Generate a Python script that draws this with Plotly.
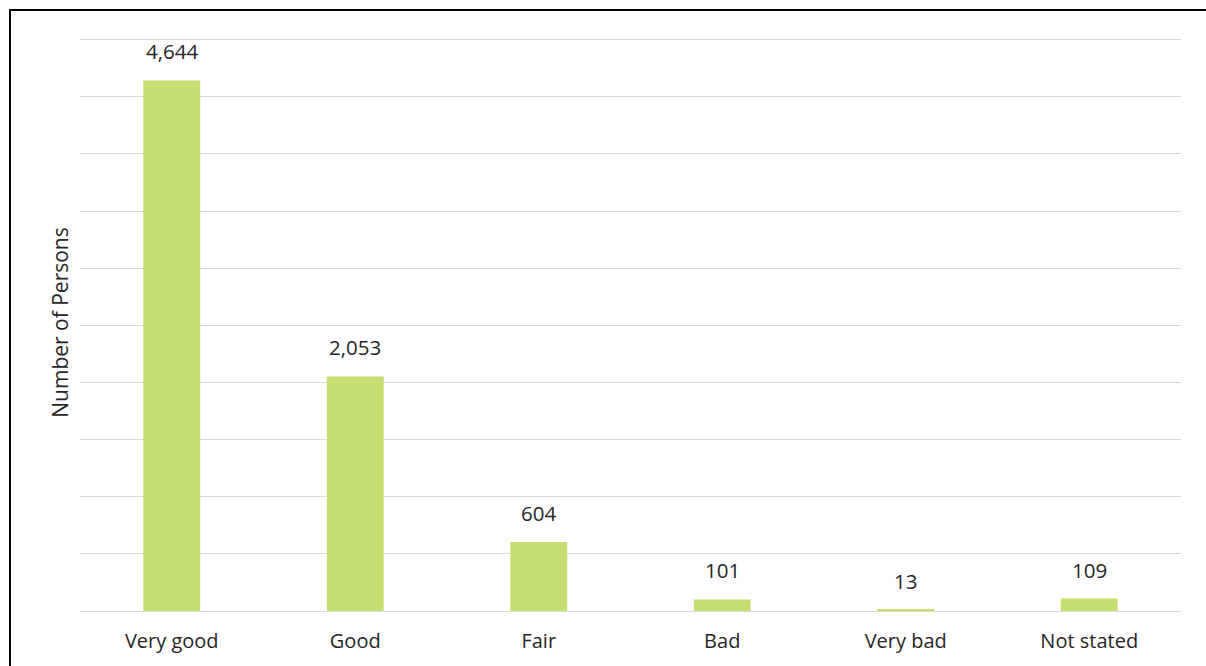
import plotly.graph_objects as go

categories = ["Very good", "Good", "Fair", "Bad", "Very bad", "Not stated"]
persons = [4644, 2053, 604, 101, 13, 109]

BAR_COLOR = "#C5DE70"
TEXT_COLOR = "#262626"
GRID_COLOR = "#D9D9D9"
FONT = "Open Sans, Noto Sans, sans-serif"

W, H = 1206, 666
L, R, T, B = 80, 25, 34, 55
Y_MAX = 5050  # a little headroom so the 5,000 gridline is drawn

fig = go.Figure(
    go.Bar(
        x=categories,
        y=persons,
        marker=dict(color=BAR_COLOR, line=dict(width=0)),
        hoverinfo="x+y",
    )
)

# value labels above each bar
for cat, val in zip(categories, persons):
    fig.add_annotation(
        x=cat, y=val, text=f"{val:,}", showarrow=False,
        yanchor="bottom", yshift=13,
        font=dict(family=FONT, size=20.5, color=TEXT_COLOR),
    )

# outer chart frame (only top and left edges fall inside the page)
pw, ph = W - L - R, H - T - B
def px_x(p): return (p - L) / pw
def px_y(p): return (H - B - p) / ph
fig.add_shape(
    type="rect", xref="paper", yref="paper",
    x0=px_x(10), x1=px_x(1215), y0=px_y(675), y1=px_y(10),
    line=dict(color="black", width=2), fillcolor="rgba(0,0,0,0)", layer="above",
)

fig.update_layout(
    width=W, height=H,
    margin=dict(l=L, r=R, t=T, b=B),
    paper_bgcolor="white", plot_bgcolor="white",
    bargap=0.69,
    showlegend=False,
    font=dict(family=FONT, size=20, color=TEXT_COLOR),
    xaxis=dict(
        showline=False, ticks="", showgrid=False,
        tickfont=dict(size=20, color=TEXT_COLOR),
        ticklabelstandoff=16,
    ),
    yaxis=dict(
        range=[0, Y_MAX], dtick=500, showticklabels=False,
        showgrid=True, gridcolor=GRID_COLOR, gridwidth=1.3,
        zeroline=True, zerolinecolor=GRID_COLOR, zerolinewidth=1.3,
        title=dict(text="Number of Persons", standoff=4,
                   font=dict(size=21, color=TEXT_COLOR)),
    ),
)

fig.write_html("out.html")
